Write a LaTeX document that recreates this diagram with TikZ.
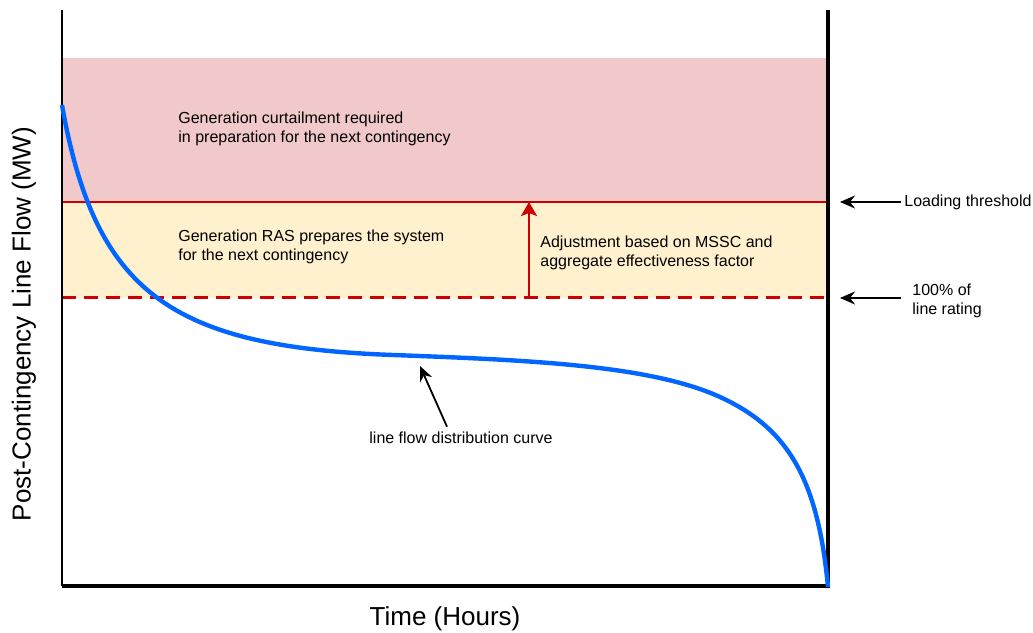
\documentclass[tikz,border=0pt]{standalone}
\usepackage{fontspec}
\setmainfont{Liberation Sans}
\usetikzlibrary{arrows.meta, positioning, calc}
\definecolor{bandred}{HTML}{F2C9CA}
\definecolor{bandyellow}{HTML}{FFF1CE}
\definecolor{limitred}{HTML}{CC0000}
\definecolor{curveblue}{HTML}{0066FF}

\begin{document}
\begin{tikzpicture}[x=0.5pt, y=0.5pt,
    note/.style={anchor=west, align=left, inner sep=0pt,
                 font=\fontsize{8}{9.5}\selectfont},
    axislab/.style={font=\fontsize{13}{15}\selectfont},
    pointer/.style={-{Stealth[length=7.5pt, width=6.5pt, inset=2.5pt]}, line width=0.9pt}]
  \useasboundingbox (0,0) rectangle (1033,632);
  % bands and limits
  \fill[bandred] (62,430) rectangle (828,574);
  \fill[bandyellow] (62,334) rectangle (828,430);
  \draw[limitred, line width=1pt] (62,430) -- (828,430);
  \draw[limitred, line width=1.5pt, dash pattern=on 7pt off 4pt] (62,334) -- (828,334);
  % axes
  \draw[line width=1pt] (62,622) -- (62,46);
  \draw[line width=1.6pt] (62,46) -- (828,46) -- (828,622);
  % duration curve
  \draw[curveblue, line width=2.2pt]
    (62,527) .. controls (95,340) and (170,285) .. (393,277)
             .. controls (527,272) and (650,267) .. (720,235)
             .. controls (790,203) and (818,150) .. (828,45);
  % adjustment
  \coordinate (adjfoot) at (529,334);
  \coordinate (adjtop) at (529,430);
  \draw[limitred, line width=1pt, -{Stealth[length=7pt, width=8pt, inset=1.5pt]}]
    (adjfoot) -- (adjtop);
  \node[note] (curtail) at (178,503.5)
    {Generation curtailment required\\in preparation for the next contingency};
  \node[note] (rasprep) at (178,385.5)
    {Generation RAS prepares the system\\for the next contingency};
  \node[note] (adjust) at (540,379.5)
    {Adjustment based on MSSC and\\aggregate effectiveness factor};
  % right labels
  \node[note, inner xsep=1.5pt] (loadlab) at (901,430) {Loading threshold};
  \node[note, inner xsep=5.5pt] (ratelab) at (901,331) {100\% of\\line rating};
  \coordinate (loadtip) at (840,430);
  \coordinate (ratetip) at (840,334);
  \draw[pointer] (loadlab.west) -- (loadtip);
  \draw[pointer] (ratelab.west |- ratetip) -- (ratetip);
  % curve label
  \node[note, anchor=center, align=center] (flowlab) at (461,194)
    {line flow distribution curve};
  \coordinate (curvept) at (420,266);
  \draw[pointer] ([xshift=-7pt, yshift=2.5pt]flowlab.north) -- (curvept);
  % axis titles
  \node[axislab] (xlab) at (445,13) {Time (Hours)};
  \node[axislab, rotate=90] (ylab) at (24,308) {Post-Contingency Line Flow (MW)};
\end{tikzpicture}
\end{document}
